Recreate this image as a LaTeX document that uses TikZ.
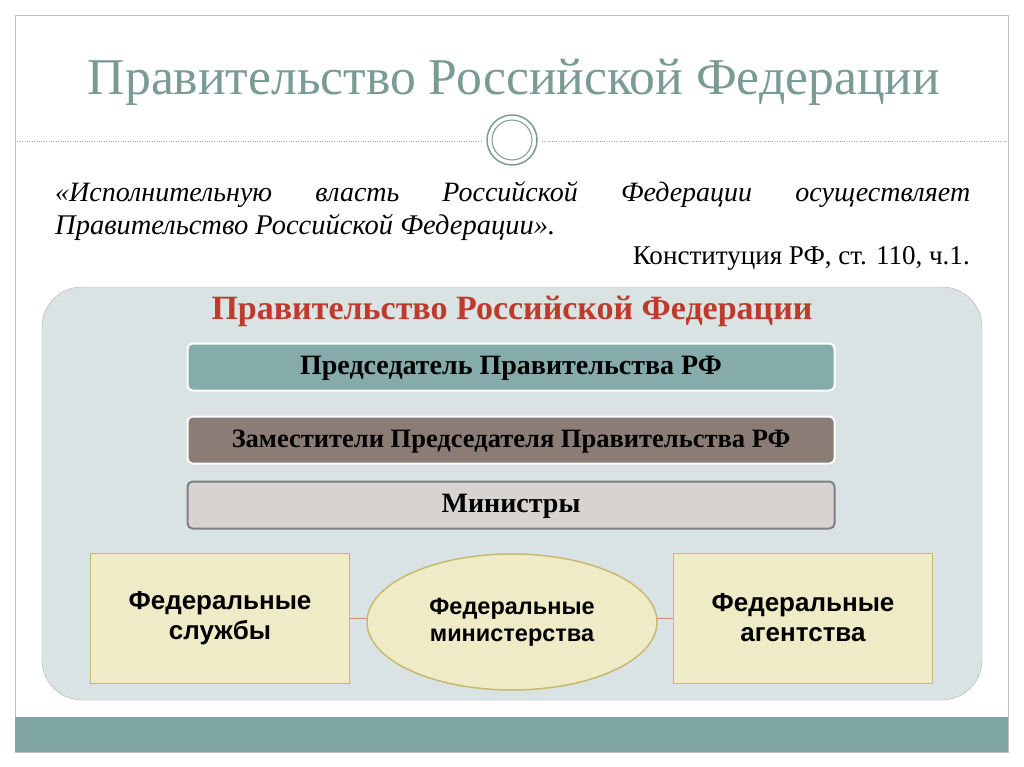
\documentclass[tikz,border=0pt]{standalone}
\usepackage{fontspec}
\setmainfont{Liberation Serif}
\newfontfamily\sansb{Liberation Sans}
\usetikzlibrary{shapes.geometric}
\definecolor{ttl}{HTML}{7A9A96}
\definecolor{panel}{HTML}{D9E3E3}
\definecolor{teal}{HTML}{86ABAB}
\definecolor{brn}{HTML}{8B7D75}
\definecolor{lgr}{HTML}{D6D3D0}
\definecolor{cream}{HTML}{EFEBC6}
\definecolor{creamd}{HTML}{C8B870}
\definecolor{redt}{HTML}{C0392B}
\definecolor{strip}{HTML}{7FA5A5}
\tikzset{
 bar/.style={draw=white, line width=2pt, rounded corners=5pt, minimum width=647pt, minimum height=47pt, text height=19pt, text depth=4pt, font=\bfseries\fontsize{28}{30}\selectfont},
 side/.style={draw=creamd, line width=1pt, fill=cream, minimum width=259pt, minimum height=130pt, align=center, font=\sansb\bfseries\fontsize{26}{30}\selectfont},
}
\begin{document}
\begin{tikzpicture}[x=1pt,y=-1pt]
\useasboundingbox (0,0) rectangle (1024,767);
\fill[white] (0,0) rectangle (1024,767);
\draw[gray!50] (15,15) rectangle (1008,752);
\fill[strip] (15,717) rectangle (1008,752);
\node[text=ttl, font=\fontsize{44}{50}\selectfont] (title) at (514,82) {\resizebox{852pt}{!}{Правительство Российской Федерации}};
\draw[ttl!80, dotted] (15,141) -- (482,141);
\draw[ttl!80, dotted] (542,141) -- (1008,141);
\draw[ttl, line width=1.5pt] (512,140) circle (25);
\draw[ttl, line width=1pt] (512,140) circle (20);
\node[anchor=west, inner sep=0pt, font=\itshape\fontsize{28}{30}\selectfont] (quote) at (55,195) {\makebox[915pt][s]{«Исполнительную\hfill власть\hfill Российской\hfill Федерации\hfill осуществляет}};
\node[anchor=west, inner sep=0pt, font=\itshape\fontsize{24}{28}\selectfont] (quote2) at (55,227) {\resizebox{500pt}{!}{Правительство Российской Федерации».}};
\node[anchor=east, inner sep=0pt, font=\fontsize{23}{28}\selectfont] (cite) at (970,258) {\resizebox{337pt}{!}{Конституция РФ, ст. 110, ч.1.}};
\draw[gray!60, fill=panel, rounded corners=40pt] (42,287) rectangle (982,700);
\node[text=redt, font=\bfseries\fontsize{34}{36}\selectfont] (gov) at (512,311) {Правительство Российской Федерации};
\node[bar, fill=teal] (chair) at (511,367) {Председатель Правительства РФ};
\node[bar, fill=brn, font=\bfseries\fontsize{26.5}{30}\selectfont] (dep) at (511,440) {Заместители Председателя Правительства РФ};
\node[bar, fill=lgr, draw=gray] (min) at (511,505) {Министры};
\node[side] (serv) at (220,618) {Федеральные\\службы};
\node[side] (agen) at (803,618) {Федеральные\\агентства};
\draw[redt!60] (serv.east) -- (agen.west);
\node[ellipse, draw=creamd, line width=1.5pt, fill=cream, minimum width=290pt, minimum height=136pt, align=center, font=\sansb\bfseries\fontsize{23.5}{27}\selectfont] (mins) at (512,622) {Федеральные\\министерства};
\end{tikzpicture}
\end{document}
